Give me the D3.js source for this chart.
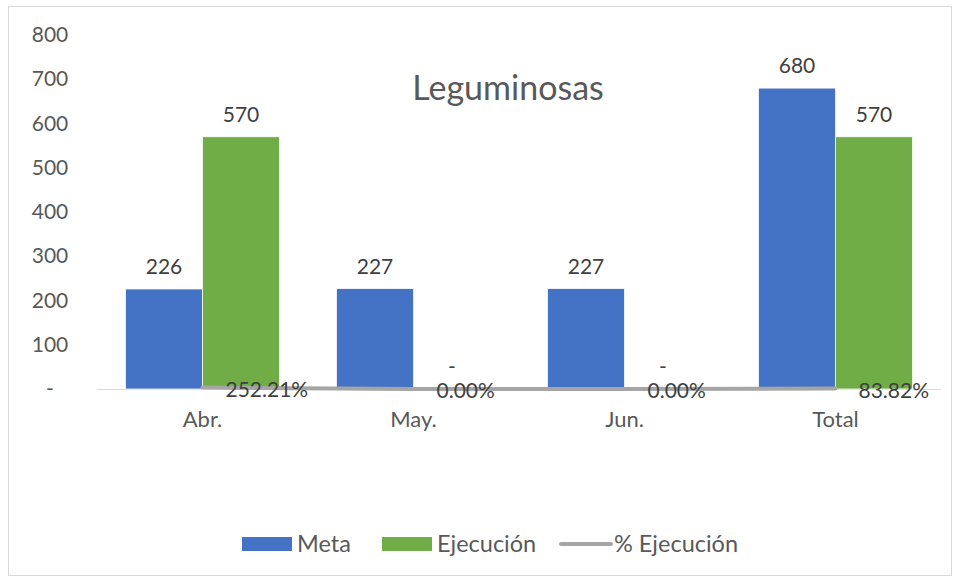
<!DOCTYPE html>
<html>
<head>
<meta charset="utf-8">
<script src="https://cdn.jsdelivr.net/npm/d3@7"></script>
<style>
  body { margin: 0; background: #fff; }
  svg text { font-family: Lato, "Noto Sans", sans-serif; }
</style>
</head>
<body>
<svg id="chart" width="959" height="579"></svg>
<script>
'use strict';

// chart data
var categories = ['Abr.', 'May.', 'Jun.', 'Total'];
var meta = [226, 227, 227, 680];
var ejecucion = [570, 0, 0, 570];
var pctEjecucion = [2.5221, 0, 0, 0.8382];
var yTicks = [0, 100, 200, 300, 400, 500, 600, 700, 800];

(function () {
    var svg = d3.select('#chart');
    var W = 959, H = 579;
    var left = 97, right = 941, top = 35, bottom = 389;

    var fmt = function (v) { return v === 0 ? '-' : d3.format(',')(v); };

    // outer border
    svg.append('rect')
      .attr('x', 8.5).attr('y', 6.5)
      .attr('width', W - 16).attr('height', H - 10)
      .attr('fill', '#fff').attr('stroke', '#d9d9d9');

    var x = d3.scaleBand().domain(categories).range([left, right]).paddingInner(0.27).paddingOuter(0.135);
    var x1 = d3.scaleBand().domain(['meta', 'ejec']).range([0, x.bandwidth()]);
    var y = d3.scaleLinear().domain([0, 800]).range([bottom, top]);
    // secondary axis (hidden) for the percentage line
    var y2 = d3.scaleLinear().domain([0, 600]).range([bottom, top]);

    // y axis labels
    var yAxis = d3.axisLeft(y).tickValues(yTicks).tickSize(0).tickPadding(0)
      .tickFormat(fmt);
    var gy = svg.append('g').attr('transform', 'translate(70,0)').call(yAxis);
    gy.select('.domain').remove();
    gy.selectAll('text').attr('fill', '#595959').style('font-size', '21px')
      .attr('text-anchor', 'middle').attr('x', -20);

    // baseline
    svg.append('line')
      .attr('x1', left).attr('x2', right)
      .attr('y1', bottom + 0.5).attr('y2', bottom + 0.5)
      .attr('stroke', '#d9d9d9').attr('stroke-width', 1);

    // x axis labels
    var xAxis = d3.axisBottom(x).tickSize(0).tickPadding(0);
    var gx = svg.append('g').attr('transform', 'translate(0,' + bottom + ')').call(xAxis);
    gx.select('.domain').remove();
    gx.selectAll('text').attr('fill', '#595959').style('font-size', '22px').attr('dy', '1.72em');

    var series = [
      { key: 'meta', values: meta, color: '#4472c4' },
      { key: 'ejec', values: ejecucion, color: '#70ad47' }
    ];

    series.forEach(function (s) {
        var g = svg.append('g');
        g.selectAll('rect').data(s.values).enter().append('rect')
          .attr('x', function (d, i) { return x(categories[i]) + x1(s.key); })
          .attr('y', function (d) { return y(d); })
          .attr('width', x1.bandwidth())
          .attr('height', function (d) { return bottom - y(d); })
          .attr('fill', s.color)
          .attr('stroke', '#fff').attr('stroke-width', 0.75);
        g.selectAll('text').data(s.values).enter().append('text')
          .attr('x', function (d, i) { return x(categories[i]) + x1(s.key) + x1.bandwidth() / 2; })
          .attr('y', function (d) { return y(d) - 15; })
          .attr('text-anchor', 'middle')
          .attr('fill', '#404040').style('font-size', '21px')
          .text(fmt);
    });

    // % ejecucion line
    var line = d3.line()
      .x(function (d, i) { return x(categories[i]) + x.bandwidth() / 2; })
      .y(function (d) { return y2(d); });
    svg.append('path').datum(pctEjecucion)
      .attr('d', line)
      .attr('fill', 'none').attr('stroke', '#a5a5a5')
      .attr('stroke-width', 4).attr('stroke-linecap', 'round');

    svg.append('g').selectAll('text').data(pctEjecucion).enter().append('text')
      .attr('x', function (d, i) { return x(categories[i]) + x.bandwidth() / 2 + 23; })
      .attr('y', function (d) { return y2(d) + 9; })
      .attr('fill', '#404040').style('font-size', '21px')
      .text(function (d) { return d3.format('.2%')(d); });

    // title
    svg.append('text')
      .attr('x', 508).attr('y', 100)
      .attr('text-anchor', 'middle')
      .attr('fill', '#595959').style('font-size', '34px')
      .text('Leguminosas');

    // legend
    var legend = [
      { name: 'Meta', color: '#4472c4', type: 'rect', x: 242 },
      { name: 'Ejecución', color: '#70ad47', type: 'rect', x: 382 },
      { name: '% Ejecución', color: '#a5a5a5', type: 'line', x: 559 }
    ];
    var lg = svg.append('g');
    legend.forEach(function (l) {
        if (l.type === 'rect') {
            lg.append('rect').attr('x', l.x).attr('y', 537).attr('width', 50).attr('height', 14).attr('fill', l.color);
        } else {
            lg.append('line').attr('x1', l.x + 2).attr('x2', l.x + 52).attr('y1', 544).attr('y2', 544)
              .attr('stroke', l.color).attr('stroke-width', 4).attr('stroke-linecap', 'round');
        }
        lg.append('text').attr('x', l.x + 55).attr('y', 552)
          .attr('fill', '#595959').style('font-size', '23.5px').text(l.name);
    });
})();
</script>
</body>
</html>
